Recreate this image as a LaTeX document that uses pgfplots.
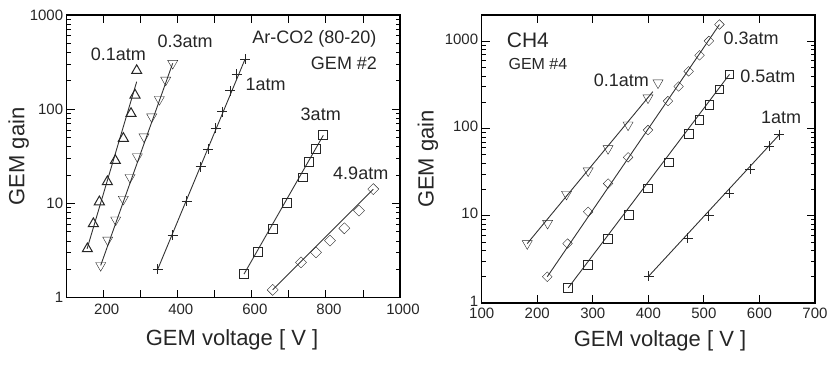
\documentclass[border=0pt]{standalone}
\usepackage{fontspec}
\setmainfont{Liberation Sans}
\usepackage{pgfplots}
\pgfplotsset{compat=1.18}

\pgfplotsset{
  every axis/.append style={
    scale only axis,
    axis line style={line width=1.3pt},
    tick align=inside,
    major tick length=8pt, minor tick length=4.5pt,
    every tick/.append style={black, line width=0.9pt},
    tick label style={font=\fontsize{15}{15}\selectfont, black!85},
    every axis label/.append style={font=\fontsize{22}{22}\selectfont, black!85},
  },
  gemfit/.style={black!80, line width=0.9pt, no marks, forget plot},
  gempts/.style={only marks, black!85, mark options={fill=white, line width=1pt}},
}
\tikzset{gemann/.style={font=\fontsize{18}{18}\selectfont, text=black!85}}

\begin{document}
\begin{tikzpicture}
\useasboundingbox (0,0) rectangle (830pt,371pt);

% ---- left: Ar-CO2 (80-20), GEM #2
\begin{axis}[
    at={(66.7pt,73.3pt)}, anchor=south west,
    width=333.3pt, height=282.7pt,
    ymode=log,
    xmin=100, xmax=1000, ymin=1, ymax=1000,
    ytick={1,10,100,1000}, yticklabels={1,10,100,1000},
    xtick={200,300,...,1000},
    xticklabels={200,,400,,600,,800,,1000},
    xticklabel style={yshift=-3pt, xshift=3pt},
    xlabel={GEM voltage [ V ]}, ylabel={GEM gain},
    xlabel style={at={(axis description cs:0.496,-0.15)}, anchor=center},
    ylabel style={at={(axis description cs:-0.144,0.5)}, anchor=center},
]
% fitted lines
\addplot[gemfit] coordinates {(155,3.3) (289,196)};
\addplot[gemfit] coordinates {(191.8,2.2) (386.2,307)};
\addplot[gemfit] coordinates {(345.7,2.0) (581.5,339)};
\addplot[gemfit] coordinates {(578.8,1.78) (793,53)};
\addplot[gemfit] coordinates {(656.2,1.21) (928,14.2)};

% 0.1 atm
\addplot[gempts, mark=triangle, mark size=5.8pt] coordinates {
  (155.8,3.3) (172,6.1) (188.2,10.4) (209.8,17) (231.4,28.5)
  (253,49) (273.7,90) (284.5,141) (289,257)};
% 0.3 atm
\addplot[gempts, mark=triangle, mark size=5.8pt, mark options={rotate=180}] coordinates {
  (191.8,2.2) (210.7,4.1) (232.3,6.7) (253,11.1) (271,18.9) (290.8,31.4)
  (308.8,51) (329.5,83) (350.2,127) (367.3,204) (386.2,307)};
% 1 atm
\addplot[gempts, mark=+, mark size=5pt] coordinates {
  (345.7,2.0) (386.2,4.6) (424,10.6) (461.8,24.6) (482.5,37.5)
  (502.3,62.7) (520.3,94) (541,157) (559,236) (581.5,339)};
% 3 atm
\addplot[gempts, mark=square, mark size=4.4pt] coordinates {
  (578.8,1.78) (617.5,3.03) (656.2,5.4) (695.8,10.2) (737.2,18.9)
  (754.3,27.3) (773.2,37.8) (793,53.3)};
% 4.9 atm
\addplot[gempts, mark=square, mark size=3.9pt, mark options={rotate=45}] coordinates {
  (656.2,1.21) (732.7,2.37) (773.2,3.03) (811,4.03) (849.7,5.45)
  (889.3,8.4) (928,14.2)};

\node[gemann] at (axis cs:239.5,385) {0.1atm};
\node[gemann] at (axis cs:419.5,521) {0.3atm};
\node[gemann] at (axis cs:768.7,552) {Ar-CO2 (80-20)};
\node[gemann] at (axis cs:848.8,307) {GEM \#2};
\node[gemann] at (axis cs:637,184) {1atm};
\node[gemann] at (axis cs:786,89) {3atm};
\node[gemann] at (axis cs:894,20.9) {4.9atm};
\end{axis}

% ---- right: CH4, GEM #4
\begin{axis}[
    at={(481.7pt,68pt)}, anchor=south west,
    width=333.3pt, height=288pt,
    ymode=log,
    xmin=100, xmax=700, ymin=1, ymax=2000,
    ytick={1,10,100,1000}, yticklabels={1,10,100,1000},
    yticklabel style={yshift=2pt},
    xtick={100,200,...,700},
    xticklabels={100,200,300,400,500,600,700},
    xticklabel style={yshift=-1pt},
    xlabel={GEM voltage [ V ]}, ylabel={GEM gain},
    xlabel style={at={(axis description cs:0.535,-0.132)}, anchor=center},
    ylabel style={at={(axis description cs:-0.161,0.5)}, anchor=center},
]
\addplot[gemfit] coordinates {(182,4.8) (408,264)};
\addplot[gemfit] coordinates {(218,2.0) (528,1556)};
\addplot[gemfit] coordinates {(255.7,1.49) (546,417)};
\addplot[gemfit] coordinates {(400.6,2.03) (635.8,85)};

% 0.1 atm
\addplot[gempts, mark=triangle, mark size=5.8pt, mark options={rotate=180}] coordinates {
  (182,4.8) (218.6,8.2) (252.7,17.7) (291.6,32.8) (327.5,59)
  (363.5,110) (399.4,225) (417.4,334)};
% 0.3 atm
\addplot[gempts, mark=square, mark size=3.4pt, mark options={rotate=45}] coordinates {
  (218,2.0) (254.5,4.8) (291.6,11.1) (327.5,23.4) (363.5,46.7) (399.4,96)
  (435.3,206) (454.5,303) (472.5,452) (492.2,690) (509,1009) (528,1556)};
% 0.5 atm
\addplot[gempts, mark=square, mark size=4.4pt] coordinates {
  (255.7,1.49) (291.6,2.7) (327.5,5.4) (364.7,10.1) (399.4,20.5) (436.5,40.8)
  (473,86.6) (492.2,126) (510,187) (528,280) (546,417)};
% 1 atm
\addplot[gempts, mark=+, mark size=5pt] coordinates {
  (400.6,2.03) (471,5.5) (509,9.95) (546,18) (583.8,34.3) (617.8,62.5) (635.8,85)};

\node[gemann, font=\fontsize{21}{21}\selectfont, anchor=west] at (axis cs:139,1027) {CH4};
\node[gemann, font=\fontsize{16}{16}\selectfont, anchor=west] at (axis cs:142,553) {GEM \#4};
\node[gemann] at (axis cs:351.5,356) {0.1atm};
\node[gemann] at (axis cs:585,1092) {0.3atm};
\node[gemann] at (axis cs:615,399) {0.5atm};
\node[gemann] at (axis cs:639,134.6) {1atm};
\end{axis}
\end{tikzpicture}
\end{document}
